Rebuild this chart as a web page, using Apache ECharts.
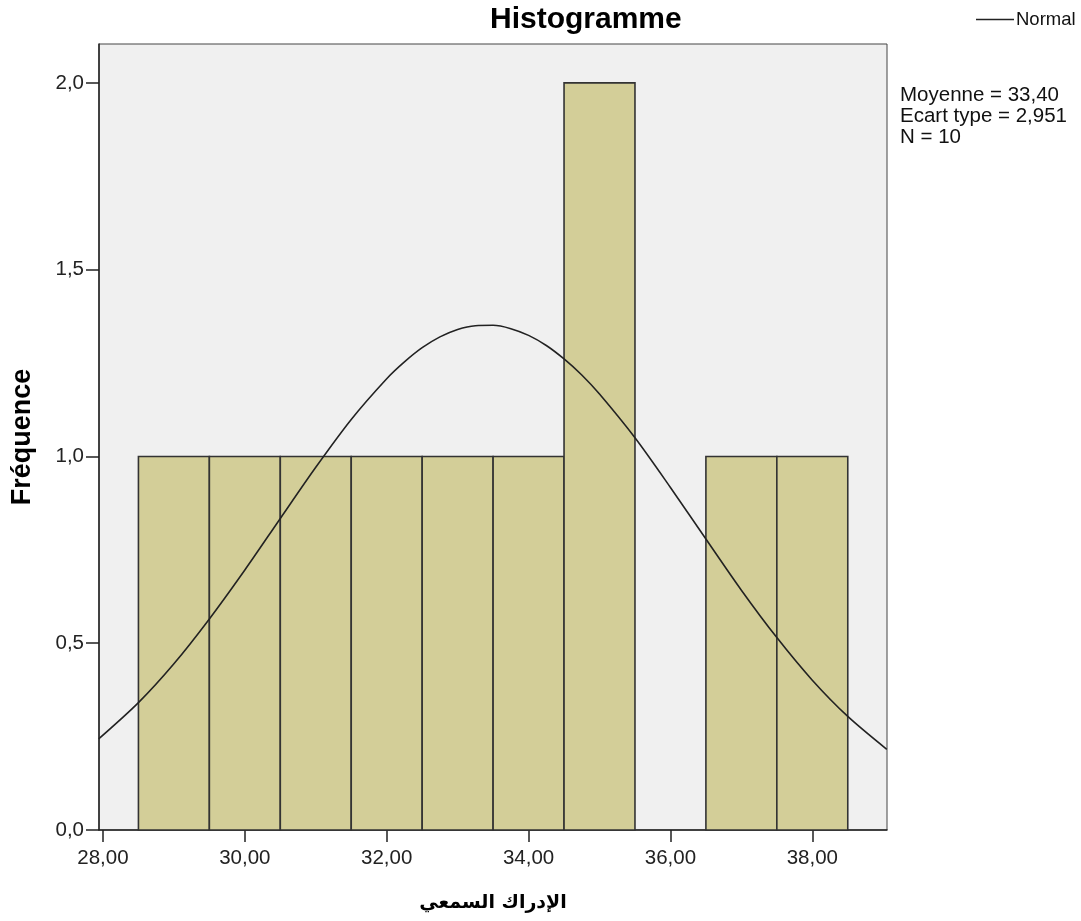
<!DOCTYPE html>
<html>
<head>
<meta charset="utf-8">
<script src="https://cdn.jsdelivr.net/npm/echarts@6/dist/echarts.min.js"></script>
<style>
html,body{margin:0;padding:0;background:#fff;}
#chart{width:1081px;height:921px;}
</style>
</head>
<body>
<div id="chart"></div>
<script>
// Histogram bins (value ranges) and frequencies
var binStart = [28.5, 29.5, 30.5, 31.5, 32.5, 33.5, 34.5, 35.5, 36.5, 37.5];
var binEnd   = [29.5, 30.5, 31.5, 32.5, 33.5, 34.5, 35.5, 36.5, 37.5, 38.5];
var counts   = [1, 1, 1, 1, 1, 1, 2, 0, 1, 1];

// Normal curve points
var curveX = [27.94, 28.5, 29, 29.5, 30, 30.5, 31, 31.5, 32, 32.25, 32.5, 32.75, 33, 33.25, 33.5, 33.75, 34, 34.25, 34.5, 34.75, 35, 35.5, 36, 36.5, 37, 37.5, 38, 38.5, 39.05];
var curveY = [0.244, 0.341, 0.445, 0.565, 0.696, 0.834, 0.971, 1.099, 1.208, 1.253, 1.291, 1.320, 1.340, 1.350, 1.351, 1.342, 1.324, 1.297, 1.261, 1.218, 1.167, 1.050, 0.917, 0.779, 0.642, 0.515, 0.401, 0.304, 0.216];

// Tick labels
var xTicks = [28, 30, 32, 34, 36, 38];
var statsLines = ['Moyenne = 33,40', 'Ecart type = 2,951', 'N = 10'];

var chart = echarts.init(document.getElementById('chart'));

var histData = binStart.map(function (s, i) { return [s, binEnd[i], counts[i]]; });
var curveData = curveX.map(function (x, i) { return [x, curveY[i]]; });

var FONT = '"Liberation Sans", Arial, "DejaVu Sans", sans-serif';

chart.setOption({
  animation: false,
  backgroundColor: '#ffffff',
  title: {
    text: 'Histogramme',
    left: 485,
    top: 0,
    textStyle: { fontFamily: FONT, fontSize: 30, fontWeight: 'bold', color: '#000' }
  },
  legend: {
    data: [{ name: 'Normal', icon: 'rect' }],
    left: 971,
    top: 5,
    itemWidth: 38,
    itemHeight: 1.5,
    itemGap: 5,
    textStyle: { fontFamily: FONT, fontSize: 18.5, color: '#111', padding: [0, 0, 0, -3] }
  },
  graphic: [{
    type: 'text',
    left: 900,
    top: 85,
    style: {
      text: statsLines.join('\n'),
      font: '20.5px ' + FONT,
      lineHeight: 21,
      fill: '#111'
    }
  }],
  grid: {
    left: 99,
    top: 44,
    right: 194,
    bottom: 91,
    show: true,
    backgroundColor: '#f0f0f0',
    borderColor: '#444',
    borderWidth: 1
  },
  xAxis: {
    type: 'value',
    min: 27.944,
    max: 39.053,
    name: 'الإدراك السمعي',
    nameLocation: 'middle',
    nameGap: 64,
    nameTextStyle: { fontFamily: '"DejaVu Sans", sans-serif', fontSize: 19, fontWeight: 'bold', color: '#000' },
    axisLine: { show: true, lineStyle: { color: '#222', width: 1.5 } },
    axisTick: { show: true, customValues: xTicks, length: 12, lineStyle: { color: '#222', width: 1.5 } },
    axisLabel: {
      customValues: xTicks,
      margin: 18,
      fontFamily: FONT,
      fontSize: 20.5,
      color: '#222',
      formatter: function (v) { return v.toFixed(2).replace('.', ','); }
    },
    splitLine: { show: false }
  },
  yAxis: {
    type: 'value',
    min: 0,
    max: 2.104,
    interval: 0.5,
    name: 'Fréquence',
    nameLocation: 'middle',
    nameRotate: 90,
    nameGap: 63,
    nameTextStyle: { fontFamily: FONT, fontSize: 27, fontWeight: 'bold', color: '#000' },
    axisLine: { show: true, lineStyle: { color: '#222', width: 1.5 } },
    axisTick: { show: true, length: 13, lineStyle: { color: '#222', width: 1.5 } },
    axisLabel: {
      margin: 15,
      fontFamily: FONT,
      fontSize: 20.5,
      color: '#222',
      showMaxLabel: false,
      formatter: function (v) { return v.toFixed(1).replace('.', ','); }
    },
    splitLine: { show: false }
  },
  series: [{
    type: 'custom',
    name: 'hist',
    data: histData,
    encode: { x: [0, 1], y: 2 },
    z: 2,
    renderItem: function (params, api) {
      var c = api.value(2);
      if (!c) return null;
      var p0 = api.coord([api.value(0), 0]);
      var p1 = api.coord([api.value(1), c]);
      return {
        type: 'rect',
        shape: { x: p0[0], y: p1[1], width: p1[0] - p0[0], height: p0[1] - p1[1] },
        style: { fill: '#d3ce98', stroke: '#333', lineWidth: 1.6 }
      };
    }
  }, {
    type: 'line',
    name: 'Normal',
    data: curveData,
    smooth: 0.3,
    symbol: 'none',
    z: 3,
    lineStyle: { color: '#222', width: 1.6 },
    itemStyle: { color: '#222' }
  }]
});
</script>
</body>
</html>
